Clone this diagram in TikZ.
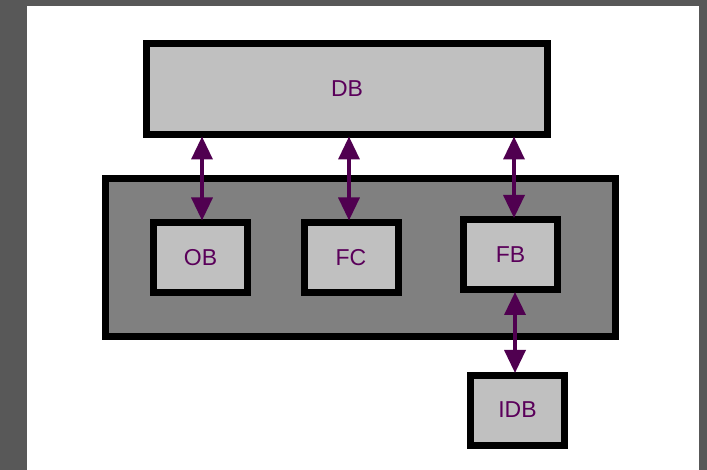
\documentclass[tikz,border=0pt]{standalone}
\usepackage{fontspec}
\setmainfont{Liberation Sans}
\usetikzlibrary{arrows.meta}
\definecolor{framegrey}{HTML}{585858}
\definecolor{boxgrey}{HTML}{C0C0C0}
\definecolor{platgrey}{HTML}{808080}
\definecolor{linkpurple}{RGB}{80,0,80}
\definecolor{txtpurple}{RGB}{90,0,90}
\begin{document}
\begin{tikzpicture}[x=1pt, y=-1pt, every node/.style={font=\fontsize{23}{27}\selectfont, text=txtpurple}, box/.style={draw, line width=7pt, fill=boxgrey, minimum width=94pt, minimum height=70pt, inner sep=0pt}, link/.style={<->, draw=linkpurple, fill=linkpurple, line width=3.5pt, shorten <=-1.5pt, shorten >=-1.5pt}, >={Triangle[length=23pt, width=21pt]}]

    % frame
    \fill[framegrey] (0,0) rectangle (707,470);
    \fill[white] (27,6) rectangle (699,470);

    \node[box, minimum width=401pt, minimum height=91pt] (db) at (347,89) {DB};
    \node[box, fill=platgrey, minimum width=510pt, minimum height=158pt] (grp) at (360.5,257.5) {};
    \node[box] (ob)  at (200.5,257.5) {OB};
    \node[box] (fc)  at (351,257.5)   {FC};
    \node[box] (fb)  at (510.5,255)   {FB};
    \node[box] (idb) at (517.5,410)   {IDB};

    \draw[link] ([xshift=1.5pt]ob.north |- db.south) -- ([xshift=1.5pt]ob.north);
    \draw[link] ([xshift=-2pt]fc.north |- db.south) -- ([xshift=-2pt]fc.north);
    \draw[link] ([xshift=3.5pt]fb.north |- db.south) -- ([xshift=3.5pt]fb.north);
    \draw[link] ([xshift=4.5pt]fb.south) -- ([xshift=4.5pt]fb.south |- idb.north);
\end{tikzpicture}
\end{document}
